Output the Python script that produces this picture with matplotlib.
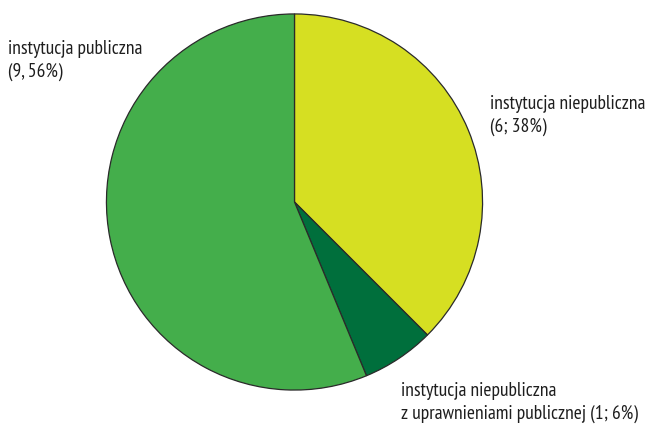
import matplotlib
matplotlib.use("Agg")
import matplotlib.pyplot as plt

categories = ["instytucja niepubliczna",
              "instytucja niepubliczna z uprawnieniami publicznej",
              "instytucja publiczna"]
values = [6, 1, 9]
label_lines = [["instytucja niepubliczna", "(6; 38%)"],
               ["instytucja niepubliczna", "z uprawnieniami publicznej (1; 6%)"],
               ["instytucja publiczna", "(9, 56%)"]]
colors = ["#d6df22", "#006f3c", "#44ae4b"]

FAM = ["PT Sans Narrow", "Archivo Narrow", "DejaVu Sans"]

W, H = 652, 425
fig = plt.figure(figsize=(W/100, H/100), dpi=100)
cx, cy, r = 294.5, 202, 189
ax = fig.add_axes([(cx - r)/W, (H - cy - r)/H, 2*r/W, 2*r/H])
ax.pie(values, colors=colors, startangle=90, counterclock=False, radius=1,
       wedgeprops=dict(edgecolor="#2a2a2a", linewidth=0.9))
ax.set_xlim(-1.005, 1.005)
ax.set_ylim(-1.005, 1.005)
ax.set_aspect("equal")
ax.axis("off")

# (x, baseline of first line, line gap) in pixels
pos = [(490, 109, 23), (401, 396.5, 22), (8, 53.5, 23)]
for (x, y, gap), lines in zip(pos, label_lines):
    for k, line in enumerate(lines):
        fig.text(x/W, 1 - (y + k*gap)/H, line, ha="left", va="baseline",
                 fontsize=14, family=FAM, color="#1e1e1e")

fig.savefig("out.png", dpi=100)
